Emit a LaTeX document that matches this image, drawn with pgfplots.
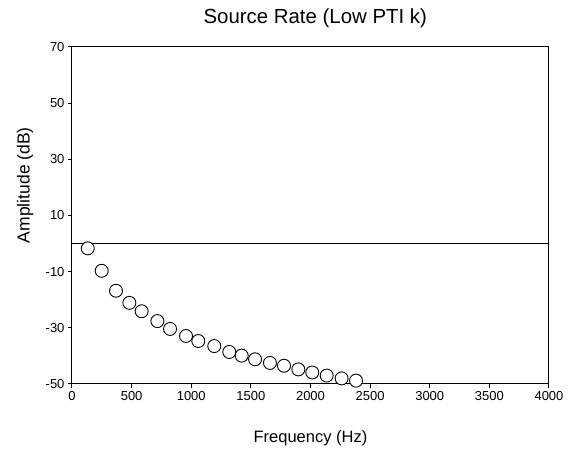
\documentclass[border=0pt]{standalone}
\usepackage{fontspec}
\setmainfont{Liberation Sans}
\usepackage{pgfplots}
\pgfplotsset{compat=1.18}
\begin{document}
\begin{tikzpicture}
\path[use as bounding box] (-72pt,-71pt) rectangle (502pt,384pt);
\begin{axis}[
    at={(0,0)}, anchor=south west,
    scale only axis,
    width=477pt, height=337pt,
    xmin=0, xmax=4000,
    ymin=-50, ymax=70,
    xtick={0,500,...,4000},
    ytick={-50,-30,-10,10,30,50,70},
    tick align=outside,
    tick pos=left,
    major tick length=4pt,
    axis line style={line width=1pt},
    every tick/.style={black, line width=1pt},
    /pgf/number format/assume math mode=true,
    /pgf/number format/1000 sep={},
    tick label style={font=\fontsize{13}{14}\selectfont},
    title={Source Rate (Low PTI k)},
    title style={font=\fontsize{20.4}{23}\selectfont, at={(axis description cs:0.51,1)}, anchor=south, yshift=10pt},
    xlabel={Frequency (Hz)},
    xlabel style={font=\fontsize{16.5}{18}\selectfont, at={(axis description cs:0.5,0)}, anchor=center, yshift=-54pt},
    ylabel={Amplitude (dB)},
    ylabel style={font=\fontsize{17.5}{19}\selectfont, at={(axis description cs:0,0.59)}, anchor=center, yshift=47pt},
]
\addplot[black, line width=1pt, forget plot] coordinates {(0,0) (4000,0)};
\addplot[only marks, mark=*, mark size=6.5pt, mark options={draw=black, fill=white, line width=0.9pt}]
coordinates {
(132,-1.7) (249,-9.7) (369,-16.8) (481,-21.1) (584,-24.1)
(716,-27.6) (822,-30.4) (956,-32.9) (1059,-34.7) (1193,-36.5)
(1319,-38.6) (1423,-39.9) (1535,-41.2) (1660,-42.5) (1778,-43.5)
(1898,-44.8) (2015,-45.9) (2136,-47.0) (2261,-48.0) (2382,-48.8)
};
\end{axis}
\end{tikzpicture}
\end{document}
